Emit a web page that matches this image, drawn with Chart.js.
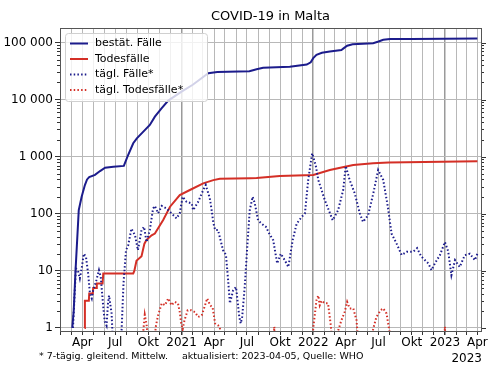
<!DOCTYPE html>
<html lang="de">
<head>
<meta charset="UTF-8">
<title>COVID-19 in Malta</title>
<script src="https://cdn.jsdelivr.net/npm/chart.js"></script>
<style>
  html, body { margin: 0; padding: 0; background: #fff; }
</style>
</head>
<body>
<canvas id="chart" width="500" height="375"></canvas>
<script>
// bestät. Fälle (kumuliert)
const caseDates = ['2020-03-04','2020-03-08','2020-03-13','2020-03-22','2020-03-30','2020-04-08','2020-04-14','2020-04-20','2020-05-06','2020-05-20','2020-06-03','2020-06-26','2020-07-25','2020-08-04','2020-08-20','2020-08-30','2020-09-17','2020-10-05','2020-10-19','2020-11-07','2020-11-25','2021-01-01','2021-02-01','2021-03-16','2021-04-10','2021-07-08','2021-07-28','2021-08-15','2021-10-28','2021-12-14','2021-12-25','2022-01-01','2022-01-10','2022-01-25','2022-02-16','2022-03-20','2022-03-25','2022-04-05','2022-04-20','2022-05-19','2022-06-16','2022-07-01','2022-07-14','2022-08-02','2022-10-01','2023-01-01','2023-04-01'];
const caseTotals = [1,2,10,116,199,319,400,440,480,560,640,668,690,1000,1718,2100,2746,3600,5030,7060,9600,13800,18200,29000,30500,31500,34100,36000,37500,41100,45000,53200,60800,66000,69500,74000,78000,88000,93000,95000,97500,104000,111500,114800,115800,116800,117500];

// Todesfälle (kumuliert)
const deathDates = ['2020-04-07','2020-04-08','2020-04-19','2020-04-20','2020-04-30','2020-05-01','2020-05-10','2020-05-11','2020-05-27','2020-05-29','2020-08-20','2020-08-23','2020-08-29','2020-09-12','2020-09-20','2020-09-26','2020-10-10','2020-10-19','2020-11-11','2020-11-30','2020-12-27','2021-01-24','2021-03-02','2021-03-30','2021-04-17','2021-07-10','2021-07-28','2021-09-30','2022-01-01','2022-02-16','2022-03-30','2022-04-22','2022-06-16','2022-07-29','2023-04-01'];
const deathTotals = [1,3,3,4,4,5,5,6,6,9,9,10,15,18,30,35,42,45,78,133,213,261,341,389,410,420,422,459,478,585,668,715,766,790,830];

// tägl. Fälle* (7-Tage-Mittel)
const dailyCaseDates = ['2020-03-06','2020-03-14','2020-03-20','2020-03-25','2020-03-30','2020-04-05','2020-04-11','2020-04-17','2020-04-22','2020-04-27','2020-05-01','2020-05-10','2020-05-17','2020-05-22','2020-05-29','2020-06-02','2020-06-07','2020-06-11','2020-06-14','2020-06-21','2020-06-25','2020-07-05','2020-07-17','2020-07-24','2020-07-31','2020-08-06','2020-08-15','2020-08-25','2020-09-02','2020-09-12','2020-09-19','2020-09-26','2020-10-05','2020-10-14','2020-10-19','2020-10-28','2020-11-07','2020-11-20','2020-12-04','2020-12-18','2020-12-27','2021-01-04','2021-01-15','2021-01-29','2021-02-02','2021-02-16','2021-03-02','2021-03-09','2021-03-20','2021-03-25','2021-03-30','2021-04-04','2021-04-12','2021-04-26','2021-05-04','2021-05-10','2021-05-15','2021-05-24','2021-06-01','2021-06-10','2021-06-14','2021-06-18','2021-06-25','2021-07-02','2021-07-09','2021-07-17','2021-07-23','2021-08-01','2021-08-11','2021-08-23','2021-09-01','2021-09-12','2021-09-23','2021-10-03','2021-10-14','2021-10-24','2021-11-05','2021-11-16','2021-11-30','2021-12-09','2021-12-18','2021-12-29','2022-01-08','2022-01-15','2022-02-02','2022-02-24','2022-03-11','2022-03-25','2022-04-01','2022-04-12','2022-04-26','2022-05-10','2022-05-19','2022-06-02','2022-06-16','2022-06-30','2022-07-14','2022-07-27','2022-08-06','2022-08-20','2022-09-03','2022-09-17','2022-10-05','2022-10-16','2022-10-27','2022-11-16','2022-11-25','2022-12-04','2022-12-18','2023-01-01','2023-01-10','2023-01-19','2023-01-29','2023-02-11','2023-02-25','2023-03-11','2023-03-25','2023-04-01'];
const dailyCases = [1,11,10,7.4,11,20,17.6,9,4,3.3,4.6,6.9,10.3,7.8,2.3,1.3,1.1,2.7,3.7,1.8,0.5,0,0.5,6,23,28,55,42,23,52,59,32,52,124,137,102,137,124,102,83,102,199,162,152,116,162,261,319,190,120,70,52,52,23,19,6.9,2.7,4.6,5.2,1.56,1.2,1.56,5.2,26,116,199,152,77,67,59,45,34.5,13.5,20,15.4,11.7,34.6,67,88,102,390,1146,700,390,174,77,116,261,687,390,228,102,72,94,220,585,390,130,45,30,19,21.6,21.6,25,18,13.5,10.3,13.5,18.8,32,22,8.4,15.4,11.7,18.8,20,15.4,20];

// tägl. Todesfälle* (7-Tage-Mittel), 0 = nichts zu zeichnen (log)
const dailyDeathDates = ['2020-09-17','2020-09-21','2020-09-26','2020-10-01','2020-10-08','2020-10-16','2020-10-22','2020-10-28','2020-11-07','2020-11-16','2020-11-25','2020-12-04','2020-12-13','2020-12-22','2020-12-27','2020-12-31','2021-01-04','2021-01-09','2021-01-18','2021-01-27','2021-02-07','2021-02-16','2021-02-26','2021-03-07','2021-03-13','2021-03-21','2021-03-28','2021-04-04','2021-04-13','2021-04-17','2021-04-21','2021-06-01','2021-09-13','2021-09-15','2021-09-17','2021-11-01','2021-12-29','2022-01-01','2022-01-10','2022-01-15','2022-01-19','2022-01-24','2022-02-02','2022-02-11','2022-02-18','2022-02-24','2022-03-03','2022-03-08','2022-03-11','2022-03-20','2022-03-29','2022-04-05','2022-04-12','2022-04-22','2022-05-01','2022-05-06','2022-05-25','2022-06-12','2022-06-16','2022-06-25','2022-07-07','2022-07-14','2022-07-23','2022-07-31','2022-08-04','2022-10-01','2022-12-30','2023-01-01','2023-01-03'];
const dailyDeaths = [0.9,1.7,1.15,0.5,0,0.5,1.1,1.67,2.7,2.5,3.3,2.5,2.86,2.7,1.9,1.2,0.95,1.36,2.05,2.05,1.9,1.56,1.67,2.5,3.3,2.5,2.3,1.2,1.1,1.04,0.5,0,0.5,1.05,0.5,0,0.5,1.0,3.06,3.7,2.5,3.0,2.7,2.7,1.2,0.5,0,0.5,0.9,1.36,1.9,2.86,2.2,2.2,1.36,0.5,0,0.5,0.95,1.56,2.05,2.2,1.8,0.9,0.5,0,0.5,1.05,0.5];

const seriesLabels = ['bestät. Fälle', 'Todesfälle', 'tägl. Fälle*', 'tägl. Todesfälle*'];
const yTicks = [1, 10, 100, 1000, 10000, 100000];
const quarterNames = { 3: 'Apr', 6: 'Jul', 9: 'Okt' };
const xStart = '2020-01-30', xEnd = '2023-04-11';
const yMin = 0.885, yMax = 179600;

const BLUE = '#1c1c8c';
const RED = '#d42f26';
const FONT = '"DejaVu Sans", sans-serif';

const DAY = 86400000;
const T0 = Date.UTC(2020, 0, 1);
function dayOf(s) {
  const [y, m, d] = s.split('-').map(Number);
  return (Date.UTC(y, m - 1, d) - T0) / DAY;
}
function pts(dates, vals) {
  return dates.map((d, i) => ({ x: dayOf(d), y: vals[i] > 0 ? vals[i] : null }));
}
function dateOf(v) { return new Date(T0 + v * DAY); }
function isYearStart(v) { const d = dateOf(v); return d.getUTCMonth() === 0 && d.getUTCDate() === 1; }

const X_MIN = dayOf(xStart), X_MAX = dayOf(xEnd);

Chart.defaults.font.family = FONT;
Chart.defaults.color = '#000';

// frame, minor ticks, title, legend, footer
const decor = {
  id: 'decor',
  afterDatasetsDraw(chart) {
    const { ctx, chartArea: a, scales: { y } } = chart;
    ctx.save();
    ctx.strokeStyle = '#333';
    ctx.lineWidth = 1;
    ctx.beginPath();
    for (let e = 0; e <= 5; e++) {
      for (let k = 1; k <= 9; k++) {
        const v = k * Math.pow(10, e);
        if (v < yMin || v > yMax) continue;
        const py = Math.round(y.getPixelForValue(v)) + 0.5;
        const len = k === 1 ? 5 : 3;
        if (k !== 1) { ctx.moveTo(a.left, py); ctx.lineTo(a.left - len, py); }
        ctx.moveTo(a.right, py); ctx.lineTo(a.right + len, py);
      }
    }
    ctx.stroke();
    ctx.strokeStyle = '#555';
    ctx.strokeRect(Math.round(a.left) + 0.5, Math.round(a.top) + 0.5, Math.round(a.right - a.left), Math.round(a.bottom - a.top));
    ctx.restore();
  },
  afterDraw(chart) {
    const { ctx, chartArea: a } = chart;
    ctx.save();
    // title
    ctx.fillStyle = '#000';
    ctx.font = '13px ' + FONT;
    ctx.textAlign = 'center';
    ctx.textBaseline = 'middle';
    ctx.fillText('COVID-19 in Malta', (a.left + a.right) / 2, 17);

    // legend
    const bx = 65, by = 33, bw = 142, bh = 68;
    ctx.beginPath();
    if (ctx.roundRect) ctx.roundRect(bx + 0.5, by + 0.5, bw, bh, 3); else ctx.rect(bx + 0.5, by + 0.5, bw, bh);
    ctx.fillStyle = 'rgba(255,255,255,0.8)';
    ctx.fill();
    ctx.strokeStyle = '#d0d0d0';
    ctx.lineWidth = 1;
    ctx.stroke();
    ctx.font = '11px ' + FONT;
    ctx.textAlign = 'left';
    chart.data.datasets.forEach((ds, i) => {
      const ry = 43.5 + i * 15.5;
      ctx.beginPath();
      ctx.setLineDash(ds.borderDash || []);
      ctx.strokeStyle = ds.borderColor;
      ctx.lineWidth = ds.borderWidth;
      ctx.moveTo(70, ry); ctx.lineTo(88, ry);
      ctx.stroke();
      ctx.setLineDash([]);
      ctx.fillStyle = '#000';
      ctx.fillText(ds.label, 95, ry);
    });

    // footer
    ctx.font = '9.5px ' + FONT;
    ctx.fillText('* 7-tägig. gleitend. Mittelw.', 39, 357);
    ctx.fillText('aktualisiert: 2023-04-05, Quelle: WHO', 182, 357);
    ctx.font = '12px ' + FONT;
    ctx.textAlign = 'right';
    ctx.fillText('2023', 482, 359);
    ctx.restore();
  }
};

const lineStyle = (color, dotted) => ({
  borderColor: color,
  backgroundColor: color,
  borderWidth: 2,
  borderDash: dotted ? [1.5, 2.2] : [],
  borderCapStyle: 'butt',
  pointRadius: 0,
  tension: 0,
  fill: false,
  clip: 0
});

new Chart(document.getElementById('chart'), {
  type: 'line',
  data: {
    datasets: [
      { label: seriesLabels[0], data: pts(caseDates, caseTotals), order: 3, ...lineStyle(BLUE, false) },
      { label: seriesLabels[1], data: pts(deathDates, deathTotals), order: 2, ...lineStyle(RED, false) },
      { label: seriesLabels[2], data: pts(dailyCaseDates, dailyCases), order: 1, ...lineStyle(BLUE, true) },
      { label: seriesLabels[3], data: pts(dailyDeathDates, dailyDeaths), order: 0, ...lineStyle(RED, true) }
    ]
  },
  options: {
    responsive: false,
    animation: false,
    devicePixelRatio: 1,
    layout: { padding: { left: 0, right: 19, top: 28, bottom: 0 } },
    plugins: { legend: { display: false }, title: { display: false }, tooltip: { enabled: false } },
    scales: {
      x: {
        type: 'linear',
        min: X_MIN,
        max: X_MAX,
        afterBuildTicks(scale) {
          const t = [];
          for (let yr = 2020; yr <= 2023; yr++) {
            for (let m = 0; m < 12; m++) {
              const v = (Date.UTC(yr, m, 1) - T0) / DAY;
              if (v >= X_MIN && v <= X_MAX) t.push({ value: v });
            }
          }
          scale.ticks = t;
        },
        afterFit(scale) { scale.height = 44; },
        grid: {
          color: c => (c.tick && isYearStart(c.tick.value)) ? '#9a9a9a' : '#b8b8b8',
          lineWidth: c => (c.tick && isYearStart(c.tick.value)) ? 1.5 : 1,
          tickColor: '#333',
          tickLength: 4,
          drawTicks: true
        },
        border: { display: false },
        ticks: {
          autoSkip: false,
          maxRotation: 0,
          padding: 1,
          font: { size: 12 },
          color: '#000',
          callback(v) {
            const d = dateOf(v);
            const m = d.getUTCMonth();
            if (m === 0) return String(d.getUTCFullYear());
            return quarterNames[m] || '';
          }
        }
      },
      y: {
        type: 'logarithmic',
        min: yMin,
        max: yMax,
        afterBuildTicks(scale) { scale.ticks = yTicks.map(v => ({ value: v })); },
        afterFit(scale) { scale.width = 60; },
        grid: { color: '#b8b8b8', lineWidth: 1, tickColor: '#333', tickLength: 5 },
        border: { display: false },
        ticks: {
          padding: 2,
          font: { size: 12 },
          color: '#000',
          callback(v) { return String(v).replace(/\B(?=(\d{3})+(?!\d))/g, ' '); }
        }
      }
    }
  },
  plugins: [decor]
});
</script>
</body>
</html>
